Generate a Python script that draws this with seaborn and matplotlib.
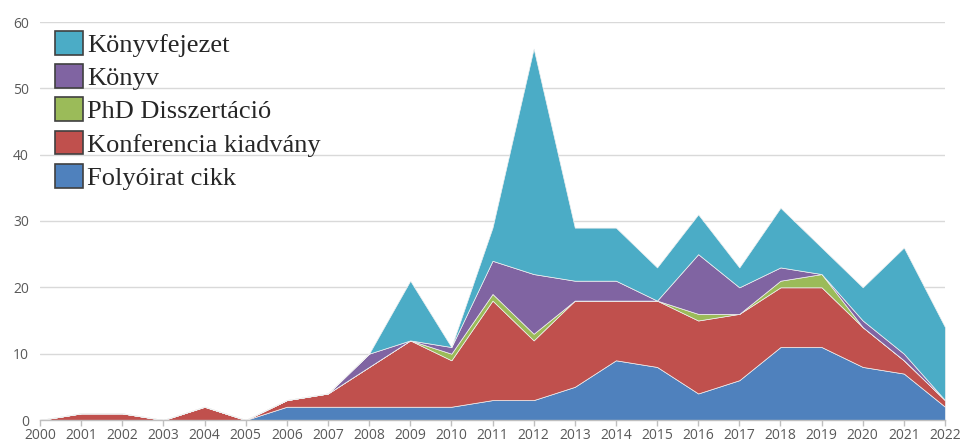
import matplotlib
matplotlib.use("Agg")
import matplotlib.pyplot as plt
import seaborn as sns
import pandas as pd
from matplotlib.patches import Patch

years = list(range(2000, 2023))
folyoirat = [0, 0, 0, 0, 0, 0, 2, 2, 2, 2, 2, 3, 3, 5, 9, 8, 4, 6, 11, 11, 8, 7, 2]
konferencia = [0, 1, 1, 0, 2, 0, 1, 2, 6, 10, 7, 15, 9, 13, 9, 10, 11, 10, 9, 9, 6, 2, 1]
phd = [0, 0, 0, 0, 0, 0, 0, 0, 0, 0, 1, 1, 1, 0, 0, 0, 1, 0, 1, 2, 0, 0, 0]
konyv = [0, 0, 0, 0, 0, 0, 0, 0, 2, 0, 1, 5, 9, 3, 3, 0, 9, 4, 2, 0, 1, 1, 0]
konyvfejezet = [0, 0, 0, 0, 0, 0, 0, 0, 0, 9, 0, 5, 34, 8, 8, 5, 6, 3, 9, 4, 5, 16, 11]

series_names = ["Folyóirat cikk", "Konferencia kiadvány", "PhD Disszertáció", "Könyv", "Könyvfejezet"]
colors = ["#4F81BD", "#C0504D", "#9BBB59", "#8064A2", "#4BACC6"]

df = pd.DataFrame({"Év": years, series_names[0]: folyoirat, series_names[1]: konferencia,
                   series_names[2]: phd, series_names[3]: konyv, series_names[4]: konyvfejezet})

sns.set_theme(style="whitegrid")
plt.rcParams["font.family"] = ["Open Sans", "DejaVu Sans"]

fig = plt.figure(figsize=(9.6, 4.46), dpi=100)
ax = fig.add_axes([40 / 960, 26 / 446, 905 / 960, 398 / 446])

ax.stackplot(df["Év"], *[df[n] for n in series_names], colors=sns.color_palette(colors),
             linewidth=0.5, edgecolor="#F0F0F0", alpha=1)

ax.set_xlim(2000, 2022)
ax.set_ylim(0, 60)
ax.set_xticks(years)
ax.set_xticklabels([str(y) for y in years])
ax.set_yticks(range(0, 61, 10))
ax.grid(axis="x", visible=False)
ax.grid(axis="y", color="#D9D9D9", linewidth=1)
ax.set_axisbelow(True)
for s in ["top", "right", "left"]:
    ax.spines[s].set_visible(False)
ax.spines["bottom"].set_color("#BFBFBF")
ax.spines["bottom"].set_linewidth(1)
ax.tick_params(axis="x", colors="#595959", labelsize=10, length=4, width=1, direction="out", bottom=True, pad=2)
ax.tick_params(axis="x", color="#BFBFBF")
ax.tick_params(axis="y", colors="#595959", labelsize=10, length=0, pad=8)
ax.set_xlabel("")
ax.set_ylabel("")

handles = [Patch(facecolor=colors[i], edgecolor="#404040", linewidth=1.2, label=series_names[i])
           for i in range(4, -1, -1)]
leg = fig.legend(handles=handles, loc="upper left", bbox_to_anchor=(55 / 960, 1 - 31 / 446),
                 frameon=False, prop={"family": "Liberation Serif", "size": 19},
                 handlelength=1.06, handleheight=1.0, labelspacing=0.28, handletextpad=0.15,
                 borderaxespad=0, borderpad=0)

fig.savefig("out.png", dpi=100)
